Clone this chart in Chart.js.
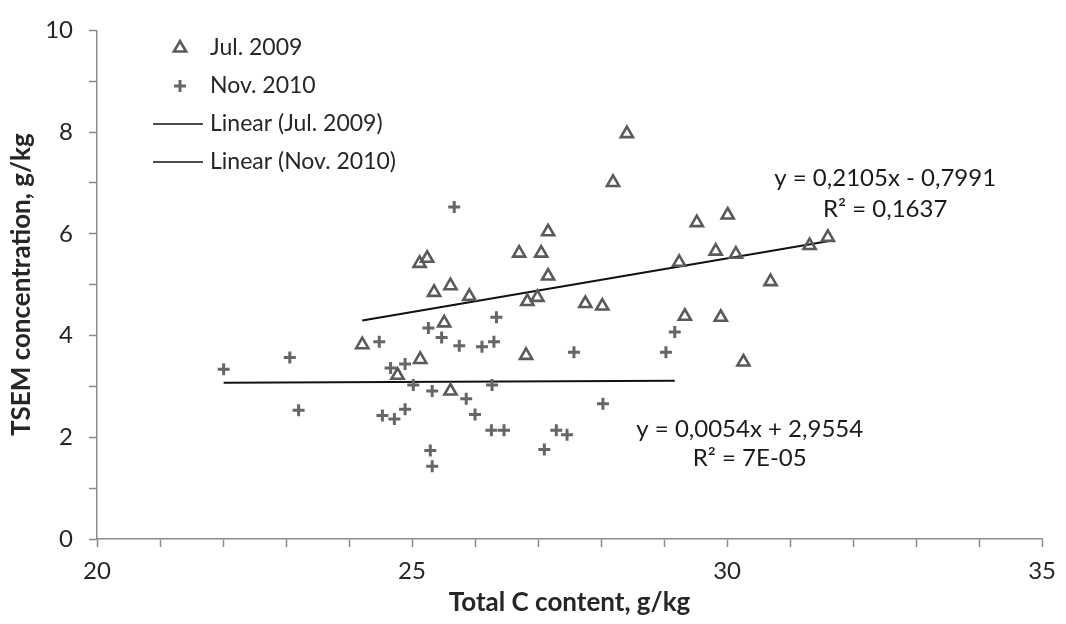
<!DOCTYPE html>
<html>
<head>
<meta charset="utf-8">
<script src="https://cdn.jsdelivr.net/npm/chart.js@4.4.1/dist/chart.umd.min.js"></script>
<style>
  html, body { margin: 0; padding: 0; background: #fff; }
  #wrap { width: 1066px; height: 624px; position: relative; }
</style>
</head>
<body>
<div id="wrap"><canvas id="tsemCanvas"></canvas></div>
<script>
// Jul. 2009 samples (triangles)
const julX = [24.21, 25.13, 24.77, 25.12, 25.24, 25.35, 25.61, 25.91, 25.51, 25.61,
  28.41, 28.19, 27.16, 26.70, 27.05, 27.16, 26.83, 26.99, 27.75, 28.02, 26.81,
  29.24, 29.52, 30.01, 29.82, 30.14, 29.33, 29.90, 30.26, 30.69, 31.31, 31.60];
const julY = [3.82, 3.53, 3.22, 5.42, 5.52, 4.85, 4.98, 4.77, 4.25, 2.91,
  7.97, 7.01, 6.04, 5.62, 5.62, 5.17, 4.67, 4.75, 4.63, 4.58, 3.61,
  5.44, 6.22, 6.37, 5.66, 5.60, 4.38, 4.36, 3.48, 5.06, 5.77, 5.93];

// Nov. 2010 samples (crosses)
const novX = [22.01, 23.06, 23.20, 24.48, 25.26, 25.47, 25.75, 26.11, 26.30, 26.34,
  24.66, 24.89, 25.02, 25.32, 25.86, 26.00, 26.27, 26.26, 26.46, 24.53, 24.72,
  24.89, 25.29, 25.32, 27.57, 29.03, 29.17, 28.03, 27.29, 27.46, 27.10, 25.67];
const novY = [3.34, 3.57, 2.53, 3.88, 4.15, 3.96, 3.80, 3.78, 3.88, 4.36,
  3.36, 3.44, 3.03, 2.91, 2.76, 2.45, 3.03, 2.14, 2.14, 2.43, 2.36,
  2.55, 1.74, 1.43, 3.67, 3.67, 4.07, 2.66, 2.14, 2.05, 1.76, 6.53];

// Excel trendline coefficients [slope, intercept]
const julFit = [0.2105, -0.7991];
const novFit = [0.0054, 2.9554];
const julEq = ['y = 0,2105x - 0,7991', 'R² = 0,1637'];
const novEq = ['y = 0,0054x + 2,9554', 'R² = 7E-05'];

const xTicks = [20, 25, 30, 35];
const yTicks = [0, 2, 4, 6, 8, 10];

const FONT = 'Lato, "Open Sans", sans-serif';
const TEXT = '#262626';
const AXIS = '#8a8a8a';
const MARK = '#5a5a5a';

function toPoints(xs, ys) {
  return xs.map((x, i) => ({ x, y: ys[i] }));
}

function fitLine(xs, fit) {
  const lo = Math.min(...xs), hi = Math.max(...xs);
  return [lo, hi].map((x) => ({ x, y: fit[0] * x + fit[1] }));
}

// equation labels, anchored in data units
const eqLabels = [
  { lines: julEq, x: 32.51, y: [7.085, 6.49] },
  { lines: novEq, x: 30.36, y: [2.16, 1.58] },
];

const eqPlugin = {
  id: 'eqLabels',
  afterDatasetsDraw(chart) {
    const { ctx, scales } = chart;
    ctx.save();
    ctx.font = '24px ' + FONT;
    ctx.fillStyle = '#1a1a1a';
    ctx.textAlign = 'center';
    ctx.textBaseline = 'middle';
    eqLabels.forEach((lab) => {
      lab.lines.forEach((t, i) => {
        ctx.fillText(t, scales.x.getPixelForValue(lab.x), scales.y.getPixelForValue(lab.y[i]));
      });
    });
    ctx.restore();
  },
};

// legend box in the upper-left of the plot, like Excel's
const legendPlugin = {
  id: 'xlLegend',
  afterDraw(chart) {
    const { ctx } = chart;
    const rows = [48, 86, 124, 162];
    ctx.save();
    ctx.font = '23px ' + FONT;
    ctx.textBaseline = 'middle';
    ctx.textAlign = 'left';
    chart.data.datasets.forEach((ds, i) => {
      const y = rows[i];
      ctx.strokeStyle = ds.borderColor;
      if (ds.showLine) {
        ctx.lineWidth = 1.6;
        ctx.beginPath();
        ctx.moveTo(153, y);
        ctx.lineTo(203, y);
        ctx.stroke();
      } else {
        ctx.fillStyle = 'rgba(0,0,0,0)';
        ctx.lineWidth = ds.borderWidth;
        Chart.helpers.drawPoint(ctx, {
          pointStyle: ds.pointStyle,
          radius: ds.pointRadius,
          borderWidth: ds.borderWidth,
        }, 180, y);
      }
      ctx.fillStyle = TEXT;
      ctx.fillText(ds.label, 210, y);
    });
    ctx.restore();
  },
};

new Chart(document.getElementById('tsemCanvas'), {
  type: 'scatter',
  data: {
    datasets: [
      {
        label: 'Jul. 2009',
        data: toPoints(julX, julY),
        pointStyle: 'triangle',
        pointRadius: 7,
        borderWidth: 2.6,
        borderColor: MARK,
        backgroundColor: 'rgba(0,0,0,0)',
      },
      {
        label: 'Nov. 2010',
        data: toPoints(novX, novY),
        pointStyle: 'cross',
        pointRadius: 6,
        borderWidth: 3,
        borderColor: '#666',
        backgroundColor: '#666',
      },
      {
        label: 'Linear (Jul. 2009)',
        data: fitLine(julX, julFit),
        showLine: true,
        pointRadius: 0,
        borderColor: '#111',
        borderWidth: 2,
      },
      {
        label: 'Linear (Nov. 2010)',
        data: fitLine(novX, novFit),
        showLine: true,
        pointRadius: 0,
        borderColor: '#111',
        borderWidth: 2,
      },
    ],
  },
  options: {
    responsive: true,
    maintainAspectRatio: false,
    animation: false,
    events: [],
    layout: { padding: { left: 0, top: 21, right: 22, bottom: 0 } },
    plugins: {
      legend: { display: false },
      tooltip: { enabled: false },
    },
    scales: {
      x: {
        type: 'linear',
        min: 20,
        max: 35,
        afterFit: (s) => { s.height = 85; },
        afterBuildTicks: (s) => {
          s.ticks = Array.from({ length: 16 }, (_, i) => ({ value: 20 + i }));
        },
        ticks: {
          autoSkip: false,
          maxRotation: 0,
          padding: 10,
          color: TEXT,
          font: { family: FONT, size: 24 },
          callback: (v) => (xTicks.includes(v) ? v : ''),
        },
        grid: { drawOnChartArea: false, tickLength: 8, color: AXIS, tickWidth: 1.5 },
        border: { color: AXIS, width: 1.5 },
        title: {
          display: true,
          text: 'Total C content, g/kg',
          color: TEXT,
          padding: 6,
          font: { family: FONT, size: 26, weight: 'bold' },
        },
      },
      y: {
        type: 'linear',
        min: 0,
        max: 10,
        afterFit: (s) => { s.width = 97; },
        afterBuildTicks: (s) => {
          s.ticks = Array.from({ length: 11 }, (_, i) => ({ value: i }));
        },
        ticks: {
          autoSkip: false,
          padding: 16,
          color: TEXT,
          font: { family: FONT, size: 24 },
          callback: (v) => (yTicks.includes(v) ? v : ''),
        },
        grid: { drawOnChartArea: false, tickLength: 8, color: AXIS, tickWidth: 1.5 },
        border: { color: AXIS, width: 1.5 },
        title: {
          display: true,
          text: 'TSEM concentration, g/kg',
          color: TEXT,
          padding: 6,
          font: { family: FONT, size: 26, weight: 'bold' },
        },
      },
    },
  },
  plugins: [eqPlugin, legendPlugin],
});
</script>
</body>
</html>
